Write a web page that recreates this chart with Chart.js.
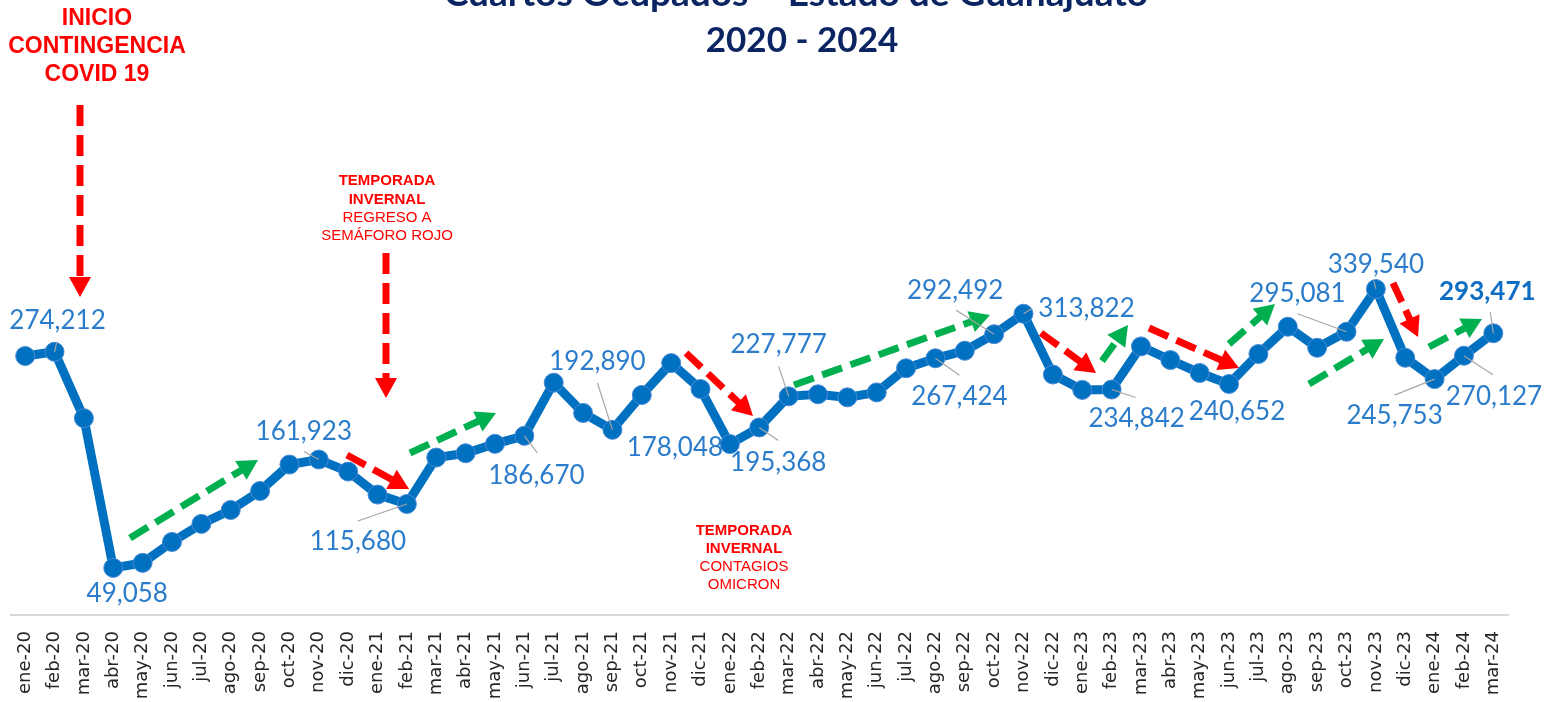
<!DOCTYPE html>
<html>
<head>
<meta charset="utf-8">
<script src="https://cdn.jsdelivr.net/npm/chart.js@4.4.1/dist/chart.umd.min.js"></script>
<style>
  html, body { margin: 0; padding: 0; background: #ffffff; }
  #wrap { width: 1548px; height: 702px; position: relative; }
</style>
</head>
<body>
<div id="wrap"><canvas id="c" width="1548" height="702"></canvas></div>
<script>
// ---------- DATA ----------
const categories = [
  'ene-20','feb-20','mar-20','abr-20','may-20','jun-20','jul-20','ago-20','sep-20','oct-20','nov-20','dic-20',
  'ene-21','feb-21','mar-21','abr-21','may-21','jun-21','jul-21','ago-21','sep-21','oct-21','nov-21','dic-21',
  'ene-22','feb-22','mar-22','abr-22','may-22','jun-22','jul-22','ago-22','sep-22','oct-22','nov-22','dic-22',
  'ene-23','feb-23','mar-23','abr-23','may-23','jun-23','jul-23','ago-23','sep-23','oct-23','nov-23','dic-23',
  'ene-24','feb-24','mar-24'
];
const cuartosOcupados = [
  269800, 274212, 205000, 49058, 54300, 76100, 94900, 109400, 129200, 156700, 161923, 149400,
  125400, 115680, 164000, 168500, 178300, 186670, 242000, 210500, 192890, 229200, 262400, 235400,
  178048, 195368, 227777, 229900, 226700, 231900, 257000, 267424, 275300, 292492, 313822, 250500,
  234500, 234842, 279800, 265600, 252100, 240652, 271900, 300300, 278400, 295081, 339540, 268000,
  245753, 270127, 293471
];
// indices of points that carry a value label
const labeledPoints = [1, 3, 10, 13, 17, 20, 24, 25, 26, 31, 33, 34, 37, 41, 45, 46, 48, 49, 50];
const boldLabelPoint = 50;
const titleLines = ['Cuartos Ocupados – Estado de Guanajuato', '2020 - 2024'];

// ---------- STYLE / LAYOUT (annotations) ----------
// label offsets relative to point: [dx, dy, leaderEndDx, leaderEndDy]
const labelPlacement = {
  1:  [3, -31, 2, -9],
  3:  [14, 26, null, null],
  10: [-15, -28, -15, -8],
  13: [-49, 38, -49, 17],
  17: [12, 40, 13, 17],
  20: [-15, -68, -15, -47],
  24: [-55, 4, null, null],
  25: [19, 35, 19, 13],
  26: [-10, -52, -10, -30],
  31: [24, 38, 24, 17],
  33: [-39, -44, -38, -24],
  34: [63, -5, 8, -5],
  37: [25, 29, 24, 8],
  41: [8, 28, null, null],
  45: [-49, -38, -49, -18],
  46: [0, -24, -2, -8],
  48: [-40, 37, -40, 16],
  49: [30, 41, 29, 19],
  50: [-6, -42, -3, -21]
};
const RED = '#FF0000', GREEN = '#00B050';
const arrows = [
  [RED, 80, 105, 80, 297],
  [RED, 386, 253, 386, 398],
  [GREEN, 130, 538, 258, 460],
  [RED, 347, 455, 409, 489],
  [GREEN, 410, 453, 496, 413],
  [RED, 686, 353, 753, 416],
  [GREEN, 794, 385, 990, 315],
  [RED, 1041, 333, 1096, 373],
  [GREEN, 1102, 361, 1128, 325],
  [RED, 1149, 328, 1239, 368],
  [GREEN, 1229, 344, 1275, 304],
  [GREEN, 1309, 384, 1384, 339],
  [RED, 1393, 283, 1418, 337],
  [GREEN, 1429, 347, 1482, 319]
];
const notes = [
  {x: 97, lines: [['INICIO', 'bold 23px', 19], ['CONTINGENCIA', 'bold 23px', 47], ['COVID 19', 'bold 23px', 75]]},
  {x: 387, lines: [['TEMPORADA', 'bold 15px', 181], ['INVERNAL', 'bold 15px', 200], ['REGRESO A', '15px', 218], ['SEMÁFORO ROJO', '15px', 236]]},
  {x: 744, lines: [['TEMPORADA', 'bold 15px', 531], ['INVERNAL', 'bold 15px', 549], ['CONTAGIOS', '15px', 567], ['OMICRON', '15px', 585]]}
];

function fmt(v) { return v.toLocaleString('en-US'); }

function drawArrow(ctx, color, x1, y1, x2, y2) {
  const dx = x2 - x1, dy = y2 - y1;
  const len = Math.hypot(dx, dy);
  const ux = dx / len, uy = dy / len;
  const headLen = 20, headHalf = 11;
  const bx = x2 - ux * headLen, by = y2 - uy * headLen;
  ctx.save();
  ctx.strokeStyle = color;
  ctx.fillStyle = color;
  ctx.lineWidth = 7;
  ctx.lineCap = 'butt';
  ctx.setLineDash([21, 9]);
  ctx.beginPath();
  ctx.moveTo(x1, y1);
  ctx.lineTo(bx + ux * 1, by + uy * 1);
  ctx.stroke();
  ctx.setLineDash([]);
  ctx.beginPath();
  ctx.moveTo(x2, y2);
  ctx.lineTo(bx - uy * headHalf, by + ux * headHalf);
  ctx.lineTo(bx + uy * headHalf, by - ux * headHalf);
  ctx.closePath();
  ctx.fill();
  ctx.restore();
}

const annotPlugin = {
  id: 'annot',
  beforeDatasetsDraw(chart) {
    const ctx = chart.ctx;
    arrows.forEach(a => drawArrow(ctx, a[0], a[1], a[2], a[3], a[4]));
  },
  afterDatasetsDraw(chart) {
    const ctx = chart.ctx;
    const meta = chart.getDatasetMeta(0);
    ctx.save();
    // leader lines
    labeledPoints.forEach(i => {
      const p = meta.data[i];
      const pl = labelPlacement[i];
      if (pl[2] === null) return;
      ctx.strokeStyle = '#A6A6A6';
      ctx.lineWidth = 1.2;
      ctx.beginPath();
      ctx.moveTo(p.x, p.y);
      ctx.lineTo(p.x + pl[2], p.y + pl[3]);
      ctx.stroke();
    });
    // value labels
    ctx.textAlign = 'center';
    ctx.textBaseline = 'middle';
    labeledPoints.forEach(i => {
      const p = meta.data[i];
      const pl = labelPlacement[i];
      const bold = i === boldLabelPoint;
      ctx.font = (bold ? 'bold ' : '') + '26px Lato';
      ctx.fillStyle = bold ? '#0E6EC4' : '#2B7CCB';
      ctx.fillText(fmt(cuartosOcupados[i]), p.x + pl[0], p.y + pl[1]);
    });
    ctx.restore();
  },
  afterDraw(chart) {
    const ctx = chart.ctx;
    ctx.save();
    ctx.textAlign = 'center';
    ctx.textBaseline = 'middle';
    ctx.fillStyle = RED;
    notes.forEach(n => {
      n.lines.forEach(l => {
        ctx.font = l[1] + ' "Liberation Sans", Arial, sans-serif';
        ctx.fillText(l[0], n.x, l[2]);
      });
    });
    // title
    ctx.fillStyle = '#0B2563';
    ctx.textBaseline = 'alphabetic';
    ctx.font = 'bold 37px Lato';
    ctx.fillText(titleLines[0], 796, 6);
    ctx.font = 'bold 35px Lato';
    ctx.fillText(titleLines[1], 802, 52);
    ctx.restore();
  }
};

new Chart(document.getElementById('c'), {
  type: 'line',
  data: {
    labels: categories,
    datasets: [{
      data: cuartosOcupados,
      borderColor: '#0070C0',
      backgroundColor: '#0070C0',
      borderWidth: 9,
      pointRadius: 9.5,
      pointBackgroundColor: '#0070C0',
      pointBorderColor: '#4A8AD6',
      pointBorderWidth: 1,
      tension: 0,
      clip: false
    }]
  },
  options: {
    responsive: false,
    animation: false,
    events: [],
    layout: { padding: { left: 10, right: 40, top: 183, bottom: 0 } },
    plugins: { legend: { display: false }, tooltip: { enabled: false }, title: { display: false } },
    scales: {
      x: {
        offset: true,
        grid: { display: true, drawOnChartArea: false, drawTicks: false },
        border: { display: true, color: '#D9D9D9', width: 2 },
        ticks: {
          autoSkip: false, maxRotation: 90, minRotation: 90, padding: 16,
          color: '#262626', font: { family: 'DejaVu Sans', size: 18 }
        },
        afterFit(s) { s.height = 87; }
      },
      y: { display: false, min: 0, max: 450000 }
    }
  },
  plugins: [annotPlugin]
});
</script>
</body>
</html>
